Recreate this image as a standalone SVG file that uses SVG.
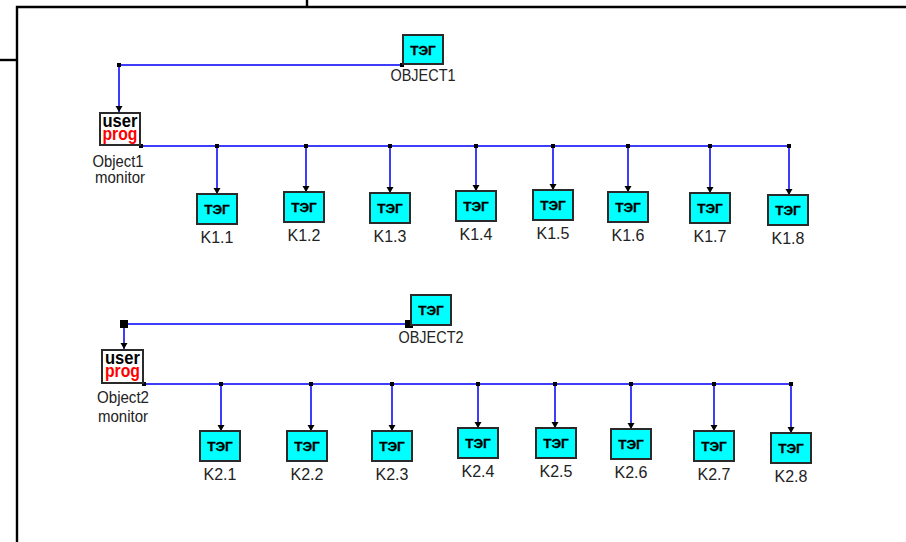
<svg xmlns="http://www.w3.org/2000/svg" width="906" height="542" viewBox="0 0 906 542">
<style>
.frame{stroke:#000;stroke-width:2.4;fill:none}
.wire{stroke:#3d3dfa;stroke-width:2;fill:none}
.teg{fill:#00ffff;stroke:#2a2a2a;stroke-width:2}
.up{fill:#fff;stroke:#2a2a2a;stroke-width:2}
.tt{font-family:"Liberation Sans",Arial,sans-serif;font-weight:bold;font-size:13.5px;fill:#000;text-anchor:middle;stroke:#000;stroke-width:0.3}
.lbl{font-family:"Liberation Sans",Arial,sans-serif;font-size:16px;fill:#222;text-anchor:middle}
.ub{font-family:"Liberation Sans",Arial,sans-serif;font-weight:bold;font-size:18px;text-anchor:middle}
.dot{fill:#000}
</style>
<defs>
<marker id="ah" markerUnits="userSpaceOnUse" markerWidth="8" markerHeight="8" refX="6" refY="3.5" orient="auto">
<path d="M0,0 L6,3.5 L0,7 z" fill="#000"/>
</marker>
</defs>
<rect width="906" height="542" fill="#fff"/>
<g id="frame">
<path class="frame" d="M17,542 V7 H906"/>
<path class="frame" d="M0,60 H17"/>
<path class="frame" d="M307,0 V7"/>
</g>
<g id="connectors">
<path class="wire" d="M402,65 H119 V112" marker-end="url(#ah)"/>
<path class="wire" d="M141,146 H789"/>
<path class="wire" d="M217,146 V194" marker-end="url(#ah)"/>
<path class="wire" d="M306,146 V192" marker-end="url(#ah)"/>
<path class="wire" d="M390,146 V193" marker-end="url(#ah)"/>
<path class="wire" d="M476,146 V191" marker-end="url(#ah)"/>
<path class="wire" d="M553,146 V190" marker-end="url(#ah)"/>
<path class="wire" d="M628,146 V192" marker-end="url(#ah)"/>
<path class="wire" d="M710,146 V193" marker-end="url(#ah)"/>
<path class="wire" d="M789,146 V195" marker-end="url(#ah)"/>
<rect class="dot" x="117" y="63" width="4" height="4"/>
<rect class="dot" x="400" y="63" width="4" height="4"/>
<rect class="dot" x="139" y="144" width="4" height="4"/>
<rect class="dot" x="215" y="144" width="4" height="4"/>
<rect class="dot" x="304" y="144" width="4" height="4"/>
<rect class="dot" x="388" y="144" width="4" height="4"/>
<rect class="dot" x="474" y="144" width="4" height="4"/>
<rect class="dot" x="551" y="144" width="4" height="4"/>
<rect class="dot" x="626" y="144" width="4" height="4"/>
<rect class="dot" x="708" y="144" width="4" height="4"/>
<rect class="dot" x="787" y="144" width="4" height="4"/>
<path class="wire" d="M409,324 H124 V349" marker-end="url(#ah)"/>
<path class="wire" d="M144,384 H791"/>
<path class="wire" d="M221,384 V431" marker-end="url(#ah)"/>
<path class="wire" d="M311,384 V431" marker-end="url(#ah)"/>
<path class="wire" d="M392,384 V431" marker-end="url(#ah)"/>
<path class="wire" d="M478,384 V428" marker-end="url(#ah)"/>
<path class="wire" d="M555,384 V428" marker-end="url(#ah)"/>
<path class="wire" d="M631,384 V429" marker-end="url(#ah)"/>
<path class="wire" d="M714,384 V431" marker-end="url(#ah)"/>
<path class="wire" d="M791,384 V433" marker-end="url(#ah)"/>
<rect class="dot" x="120" y="320" width="8" height="8"/>
<rect class="dot" x="405" y="320" width="8" height="8"/>
<rect class="dot" x="142" y="382" width="4" height="4"/>
<rect class="dot" x="219" y="382" width="4" height="4"/>
<rect class="dot" x="309" y="382" width="4" height="4"/>
<rect class="dot" x="390" y="382" width="4" height="4"/>
<rect class="dot" x="476" y="382" width="4" height="4"/>
<rect class="dot" x="553" y="382" width="4" height="4"/>
<rect class="dot" x="629" y="382" width="4" height="4"/>
<rect class="dot" x="712" y="382" width="4" height="4"/>
<rect class="dot" x="789" y="382" width="4" height="4"/>
</g>
<g id="OBJECT1"><rect class="teg" x="403" y="35" width="40" height="29"/><text class="tt" x="423" y="54.5">ТЭГ</text><text class="lbl" x="423" y="81" textLength="65" lengthAdjust="spacingAndGlyphs">OBJECT1</text></g>
<g id="Object1_monitor"><rect class="up" x="100" y="113" width="40" height="32"/><text class="ub"><tspan x="120" y="126.5" fill="#000" textLength="35" lengthAdjust="spacingAndGlyphs">user</tspan><tspan x="120" y="139.5" fill="#ff0000" textLength="35" lengthAdjust="spacingAndGlyphs">prog</tspan></text><text class="lbl" x="118" y="167" textLength="51" lengthAdjust="spacingAndGlyphs">Object1</text><text class="lbl" x="120" y="183" textLength="50" lengthAdjust="spacingAndGlyphs">monitor</text></g>
<g id="K1.1"><rect class="teg" x="197" y="194" width="40" height="30"/><text class="tt" x="217" y="214">ТЭГ</text><text class="lbl" x="217" y="243">K1.1</text></g>
<g id="K1.2"><rect class="teg" x="284" y="192" width="40" height="30"/><text class="tt" x="304" y="212">ТЭГ</text><text class="lbl" x="304" y="241">K1.2</text></g>
<g id="K1.3"><rect class="teg" x="370" y="193" width="40" height="30"/><text class="tt" x="390" y="213">ТЭГ</text><text class="lbl" x="390" y="242">K1.3</text></g>
<g id="K1.4"><rect class="teg" x="456" y="191" width="40" height="30"/><text class="tt" x="476" y="211">ТЭГ</text><text class="lbl" x="476" y="240">K1.4</text></g>
<g id="K1.5"><rect class="teg" x="533" y="190" width="40" height="30"/><text class="tt" x="553" y="210">ТЭГ</text><text class="lbl" x="553" y="239">K1.5</text></g>
<g id="K1.6"><rect class="teg" x="608" y="192" width="40" height="30"/><text class="tt" x="628" y="212">ТЭГ</text><text class="lbl" x="628" y="241">K1.6</text></g>
<g id="K1.7"><rect class="teg" x="690" y="193" width="40" height="30"/><text class="tt" x="710" y="213">ТЭГ</text><text class="lbl" x="710" y="242">K1.7</text></g>
<g id="K1.8"><rect class="teg" x="768" y="195" width="40" height="30"/><text class="tt" x="788" y="215">ТЭГ</text><text class="lbl" x="788" y="244">K1.8</text></g>
<g id="OBJECT2"><rect class="teg" x="411" y="295" width="40" height="30"/><text class="tt" x="431" y="315">ТЭГ</text><text class="lbl" x="431" y="343" textLength="65" lengthAdjust="spacingAndGlyphs">OBJECT2</text></g>
<g id="Object2_monitor"><rect class="up" x="102" y="350" width="41" height="33"/><text class="ub"><tspan x="122.5" y="364" fill="#000" textLength="35" lengthAdjust="spacingAndGlyphs">user</tspan><tspan x="122.5" y="377" fill="#ff0000" textLength="35" lengthAdjust="spacingAndGlyphs">prog</tspan></text><text class="lbl" x="123" y="403" textLength="52" lengthAdjust="spacingAndGlyphs">Object2</text><text class="lbl" x="123" y="422" textLength="50" lengthAdjust="spacingAndGlyphs">monitor</text></g>
<g id="K2.1"><rect class="teg" x="200" y="431" width="40" height="30"/><text class="tt" x="220" y="451">ТЭГ</text><text class="lbl" x="220" y="480">K2.1</text></g>
<g id="K2.2"><rect class="teg" x="287" y="431" width="40" height="30"/><text class="tt" x="307" y="451">ТЭГ</text><text class="lbl" x="307" y="480">K2.2</text></g>
<g id="K2.3"><rect class="teg" x="372" y="431" width="40" height="30"/><text class="tt" x="392" y="451">ТЭГ</text><text class="lbl" x="392" y="480">K2.3</text></g>
<g id="K2.4"><rect class="teg" x="458" y="428" width="40" height="30"/><text class="tt" x="478" y="448">ТЭГ</text><text class="lbl" x="478" y="477">K2.4</text></g>
<g id="K2.5"><rect class="teg" x="536" y="428" width="40" height="30"/><text class="tt" x="556" y="448">ТЭГ</text><text class="lbl" x="556" y="477">K2.5</text></g>
<g id="K2.6"><rect class="teg" x="611" y="429" width="40" height="30"/><text class="tt" x="631" y="449">ТЭГ</text><text class="lbl" x="631" y="478">K2.6</text></g>
<g id="K2.7"><rect class="teg" x="694" y="431" width="40" height="30"/><text class="tt" x="714" y="451">ТЭГ</text><text class="lbl" x="714" y="480">K2.7</text></g>
<g id="K2.8"><rect class="teg" x="771" y="433" width="40" height="30"/><text class="tt" x="791" y="453">ТЭГ</text><text class="lbl" x="791" y="482">K2.8</text></g>
</svg>
